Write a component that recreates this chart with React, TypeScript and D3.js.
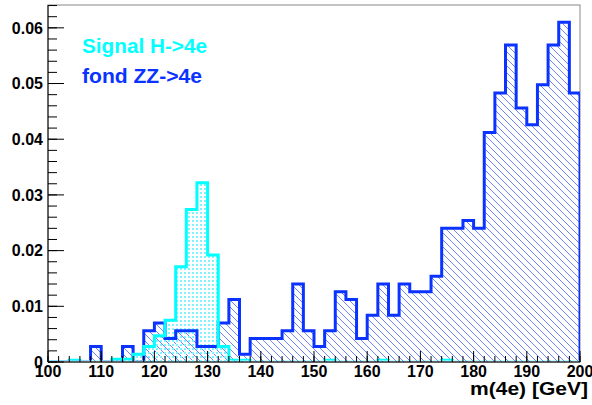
import React from "react";
import * as d3 from "d3";

// bin lower edges 100..198, width 2 GeV
const binEdges: number[] = d3.range(100, 201, 2);
const background: number[] = [
  0, 0, 0, 0, 0.0028, 0, 0, 0.0028, 0, 0.0056,
  0.007, 0.0042, 0.0056, 0.0056, 0.0028, 0.0028, 0.007, 0.0112, 0.0014, 0.0042,
  0.0042, 0.0042, 0.0056, 0.014, 0.0056, 0.0028, 0.0056, 0.0126, 0.0112, 0.0042,
  0.0084, 0.014, 0.0084, 0.014, 0.0126, 0.0126, 0.0154, 0.024, 0.024, 0.0254,
  0.024, 0.0412, 0.0483, 0.0569, 0.0456, 0.0426, 0.0498, 0.0569, 0.061, 0.0483,
];
const signal: number[] = [
  0, 0, 0.0003, 0, 0, 0, 0.0005, 0.0005, 0.0014, 0.0028,
  0.0047, 0.0075, 0.0171, 0.0274, 0.0322, 0.0192, 0.0028, 0.0003, 0.0003, 0,
  0, 0, 0, 0, 0, 0, 0.0003, 0, 0, 0,
  0, 0.0003, 0, 0, 0, 0, 0, 0.0003, 0, 0,
  0, 0, 0, 0, 0, 0, 0, 0, 0, 0,
];
const yTicks: number[] = [0, 0.01, 0.02, 0.03, 0.04, 0.05, 0.06];
const xTicks: number[] = [100, 110, 120, 130, 140, 150, 160, 170, 180, 190, 200];
const legendLabels: string[] = ["Signal H->4e", "fond ZZ->4e"];
const xTitle = "m(4e) [GeV]";

const W = 592, H = 405;
const L = 48, R = 580, T = 5, B = 362;
const BLUE = "#0a33ff";
const CYAN = "#00ffff";
const FONT = "'Liberation Sans', Arial, Helvetica, sans-serif";

export default function App() {
  const x = d3.scaleLinear().domain([100, 200]).range([L, R]);
  const y = d3.scaleLinear().domain([0, 0.0641]).range([B, T]);

  const stepPath = (vals: number[]) => {
    let p = `M${x(100)},${y(0)}`;
    vals.forEach((v, i) => {
      p += `L${x(binEdges[i])},${y(v)}L${x(binEdges[i + 1])},${y(v)}`;
    });
    p += `L${x(200)},${y(0)}`;
    return p;
  };

  const yMinor = d3.range(0, 0.0641, 0.002);
  const xMinor = d3.range(100, 200.01, 2);

  return (
    <div style={{ position: "fixed", left: 0, top: 0 }}>
      <svg width={W} height={H} style={{ display: "block", background: "#fff" }}>
        <defs>
          <clipPath id="plot">
            <rect x={L} y={T} width={R - L} height={B - T} />
          </clipPath>
          <clipPath id="outline">
            <rect x={L} y={T} width={R - L} height={B - T - 1.5} />
          </clipPath>
          <pattern id="hatch" patternUnits="userSpaceOnUse" width={7} height={7}>
            <path d="M-1,-1L8,8M-8,-1L1,8M6,-1L15,8" stroke="#3a5cff" strokeWidth={1} opacity={0.75} />
          </pattern>
          <pattern id="dots" patternUnits="userSpaceOnUse" width={4} height={4}>
            <rect x={0} y={0} width={2} height={2} fill="#7ff4ff" />
          </pattern>
        </defs>

        {/* frame */}
        <rect x={L} y={T} width={R - L} height={B - T} fill="#fff" stroke="#888" strokeWidth={1} />

        <g clipPath="url(#plot)">
          <path d={stepPath(background)} fill="url(#hatch)" stroke="none" />
          <path d={stepPath(signal)} fill="url(#dots)" stroke="none" />
        </g>
        <g clipPath="url(#outline)">
          <path d={stepPath(background)} fill="none" stroke={BLUE} strokeWidth={3} strokeLinejoin="miter" />
          <path d={stepPath(signal)} fill="none" stroke={CYAN} strokeWidth={3} strokeLinejoin="miter" />
        </g>

        {/* axes */}
        <line x1={L} x2={L} y1={T} y2={B} stroke="#000" strokeWidth={1} />
        <line x1={L} x2={R} y1={B} y2={B} stroke="#000" strokeWidth={1} />

        {yMinor.map((v, i) => (
          <line key={"ym" + i} x1={L} x2={L + 9} y1={y(v)} y2={y(v)} stroke="#000" />
        ))}
        {yTicks.map((v) => (
          <line key={"yt" + v} x1={L} x2={L + 16} y1={y(v)} y2={y(v)} stroke="#000" />
        ))}
        {xMinor.map((v, i) => (
          <line key={"xm" + i} x1={x(v)} x2={x(v)} y1={B} y2={B - 6} stroke="#000" />
        ))}
        {xTicks.map((v) => (
          <line key={"xt" + v} x1={x(v)} x2={x(v)} y1={B} y2={B - 11} stroke="#000" />
        ))}

        {yTicks.map((v) => (
          <text key={"yl" + v} x={L - 5} y={y(v)} dy="0.36em" textAnchor="end"
            fontFamily={FONT} fontWeight="bold" fontSize={16} fill="#000">
            {v === 0 ? "0" : d3.format(".2f")(v)}
          </text>
        ))}
        {xTicks.map((v) => (
          <text key={"xl" + v} x={x(v)} y={377} textAnchor="middle"
            fontFamily={FONT} fontWeight="bold" fontSize={16} fill="#000">
            {v}
          </text>
        ))}

        <text x={588} y={395} textAnchor="end" fontFamily={FONT} fontWeight="bold"
          fontSize={19} fill="#000" textLength={118} lengthAdjust="spacingAndGlyphs">
          {xTitle}
        </text>

        <text x={82} y={53} fontFamily={FONT} fontWeight="bold" fontSize={20} fill={CYAN}
          textLength={125} lengthAdjust="spacingAndGlyphs">
          {legendLabels[0]}
        </text>
        <text x={82} y={83} fontFamily={FONT} fontWeight="bold" fontSize={20} fill={BLUE}
          textLength={120} lengthAdjust="spacingAndGlyphs">
          {legendLabels[1]}
        </text>
      </svg>
    </div>
  );
}
